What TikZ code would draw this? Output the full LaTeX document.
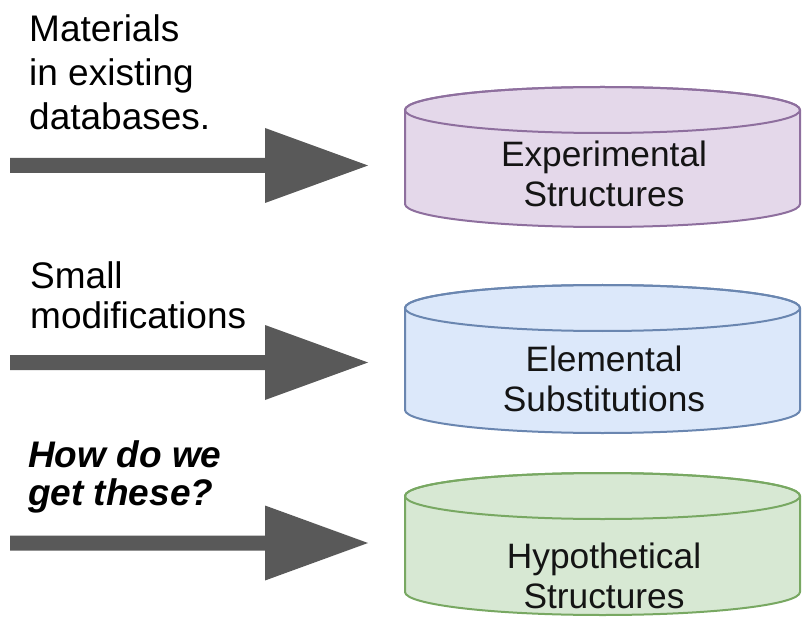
\documentclass[tikz,border=0pt]{standalone}
\usepackage{fontspec}
\setmainfont{Liberation Sans}
\definecolor{arrowgray}{HTML}{595959}
\definecolor{purfill}{HTML}{E4D8EA}
\definecolor{purline}{HTML}{8E6F9E}
\definecolor{bluefill}{HTML}{DCE8FA}
\definecolor{blueline}{HTML}{6A86B0}
\definecolor{grnfill}{HTML}{D7E8D3}
\definecolor{grnline}{HTML}{78A862}
\definecolor{txt}{HTML}{141414}
\begin{document}
\begin{tikzpicture}[x=1pt,y=-1pt,
  lefttext/.style={anchor=north west,inner sep=0pt,align=left,text=black},
  cyltext/.style={inner sep=0pt,align=center,text=txt,font=\fontsize{35.3}{40}\selectfont},
  blockarrow/.style={fill=arrowgray}
]
\useasboundingbox (0,0) rectangle (805,617);

% ---- left texts ----
\node[lefttext,font=\fontsize{37}{44}\selectfont] (t1) at (29,14) {Materials\\in existing\\databases.};
\node[lefttext,font=\fontsize{37}{40}\selectfont] (t2) at (30,261) {Small\\modifications};
\node[lefttext,font=\fontsize{37}{38.5}\selectfont\bfseries\itshape] (t3) at (28,440) {How do we\\get these?};

% ---- block arrows ----
\foreach \cy/\nm in {165.5/a1, 362.5/a2, 543/a3}{
  \coordinate (\nm s) at (10,\cy);
  \coordinate (\nm t) at (368,\cy);
  \fill[blockarrow] (10,\cy-7.5) -- (265,\cy-7.5) -- (265,\cy-37.5) -- (\nm t)
     -- (265,\cy+37.5) -- (265,\cy+7.5) -- (10,\cy+7.5) -- cycle;
}

% ---- cylinders ----
\foreach \yt/\yb/\fc/\lc in {110/204/purfill/purline, 308/410/bluefill/blueline, 496/592/grnfill/grnline}{
  \filldraw[fill=\fc,draw=\lc,line width=2pt]
    (405,\yt) -- (405,\yb) arc[start angle=180,end angle=360,x radius=197.5pt,y radius=23pt]
    -- (800,\yt) arc[start angle=0,end angle=180,x radius=197.5pt,y radius=23pt] -- cycle;
  \draw[draw=\lc,line width=2pt] (602.5,\yt) ellipse[x radius=197.5pt,y radius=23pt];
}
\node[cyltext] (c1) at (604,174) {Experimental\\Structures};
\node[cyltext] (c2) at (604,379) {Elemental\\Substitutions};
\node[cyltext] (c3) at (604,576) {Hypothetical\\Structures};
\end{tikzpicture}
\end{document}
